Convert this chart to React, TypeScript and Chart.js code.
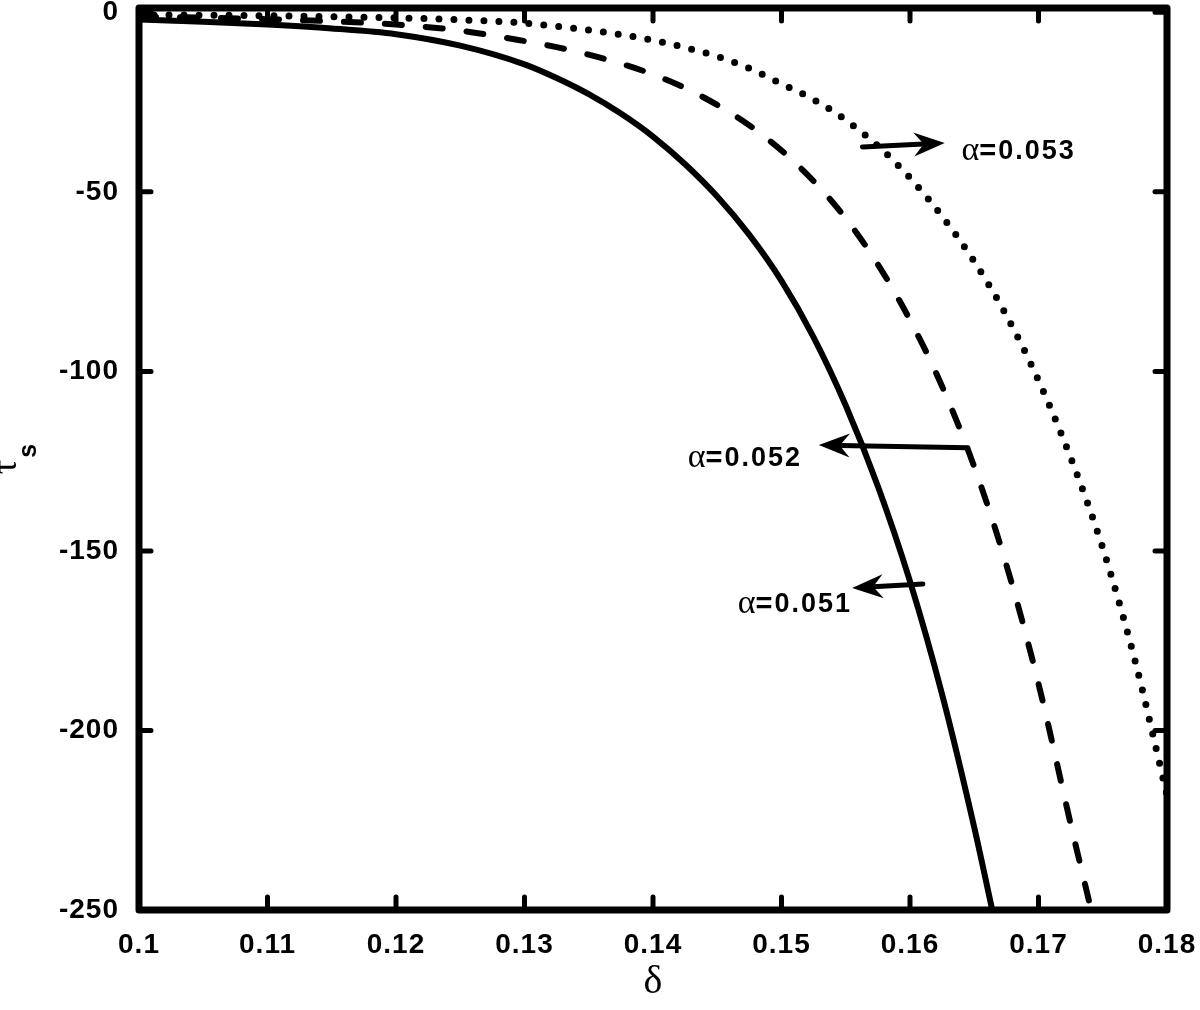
import { useEffect, useRef } from "react"
import { Chart, registerables } from "chart.js"

Chart.register(...registerables)

// axis ticks
const xTicks = [0.1, 0.11, 0.12, 0.13, 0.14, 0.15, 0.16, 0.17, 0.18]
const xTickLabels = ["0.1", "0.11", "0.12", "0.13", "0.14", "0.15", "0.16", "0.17", "0.18"]
const yTicks = [0, -50, -100, -150, -200, -250]
const yTickLabels = ["0", "-50", "-100", "-150", "-200", "-250"]

// alpha = 0.051 (solid)
const delta051 = [0.1, 0.105, 0.11, 0.115, 0.12, 0.125, 0.13, 0.1325, 0.135, 0.1375, 0.14, 0.1425, 0.145, 0.1475, 0.15, 0.1525, 0.155, 0.1575, 0.16, 0.1625, 0.165, 0.1664]
const tau051 = [-2, -2.6, -3.4, -4.5, -6.1, -9.3, -14.5, -18.3, -22.8, -28.2, -34.6, -42.3, -51.3, -62, -74.8, -90.5, -109.5, -132, -158.5, -190, -227, -250]

// alpha = 0.052 (dashed)
const delta052 = [0.1, 0.105, 0.11, 0.115, 0.12, 0.125, 0.13, 0.1325, 0.135, 0.1375, 0.14, 0.1425, 0.145, 0.1475, 0.15, 0.1525, 0.155, 0.1575, 0.16, 0.1625, 0.165, 0.1675, 0.17, 0.1725, 0.1741]
const tau052 = [-1.2, -1.5, -1.9, -2.5, -3.4, -5.1, -8, -9.7, -11.8, -14.3, -17.3, -21.1, -25.8, -31.5, -38.5, -47, -57.4, -70.2, -85.7, -104.2, -126.6, -153.9, -187, -226, -250]

// alpha = 0.053 (dotted)
const delta053 = [0.1, 0.105, 0.11, 0.115, 0.12, 0.125, 0.13, 0.1325, 0.135, 0.1375, 0.14, 0.1425, 0.145, 0.1475, 0.15, 0.1525, 0.155, 0.1575, 0.16, 0.1625, 0.165, 0.1675, 0.17, 0.1725, 0.175, 0.1775, 0.18]
const tau053 = [-0.7, -0.8, -0.95, -1.2, -1.55, -2.1, -3, -3.9, -4.95, -6.2, -7.8, -9.8, -12.3, -15.6, -19.9, -24.3, -30, -37.2, -46.1, -56.8, -69.4, -84.4, -102.5, -124, -149.2, -180.4, -218]

// annotation arrows and labels
const noteValues = ["0.053", "0.052", "0.051"]
const arrowTailDelta = [0.1563, 0.1645, 0.161]
const arrowTailTau = [-37.5, -121.3, -159.2]
const arrowTipDelta = [0.1627, 0.1529, 0.1555]
const arrowTipTau = [-36.4, -120.5, -160.3]
const noteDelta = [0.164, 0.1427, 0.1466]
const noteTau = [-38.8, -124.3, -165]

const sans = "'Liberation Sans', Arial, sans-serif"
const serif = "'Liberation Serif', 'DejaVu Serif', serif"

function toPoints(xs: number[], ys: number[]) {
  return xs.map((x, i) => ({ x, y: ys[i] }))
}

function labelFor(list: number[], labels: string[], v: number) {
  const i = list.findIndex((t) => Math.abs(t - v) < 1e-9)
  return i >= 0 ? labels[i] : ""
}

function drawArrow(ctx: CanvasRenderingContext2D, x1: number, y1: number, x2: number, y2: number) {
  const ang = Math.atan2(y2 - y1, x2 - x1)
  const len = 31
  const half = 12
  const notch = 21
  const cos = Math.cos(ang)
  const sin = Math.sin(ang)
  const nx = x2 - cos * notch
  const ny = y2 - sin * notch
  ctx.beginPath()
  ctx.moveTo(x1, y1)
  ctx.lineTo(nx, ny)
  ctx.lineWidth = 5
  ctx.lineCap = "round"
  ctx.stroke()
  const bx = x2 - cos * len
  const by = y2 - sin * len
  ctx.beginPath()
  ctx.moveTo(x2, y2)
  ctx.lineTo(bx - sin * half, by + cos * half)
  ctx.lineTo(nx, ny)
  ctx.lineTo(bx + sin * half, by - cos * half)
  ctx.closePath()
  ctx.fill()
}

const spacingPlugin = {
  id: "spacing",
  beforeDraw(chart: Chart) {
    ;(chart.ctx as any).letterSpacing = "1px"
  },
}

const framePlugin = {
  id: "frame",
  afterDatasetsDraw(chart: Chart) {
    const { ctx, chartArea: a, scales } = chart
    const xs = scales.x
    const ys = scales.y
    ctx.save()
    ;(ctx as any).letterSpacing = "0px"
    ctx.strokeStyle = "#000"
    ctx.fillStyle = "#000"
    ctx.lineJoin = "round"
    ctx.lineWidth = 7
    ctx.strokeRect(a.left, a.top, a.right - a.left, a.bottom - a.top)

    // inward tick marks on all four sides
    ctx.lineWidth = 5
    ctx.lineCap = "round"
    ctx.beginPath()
    xTicks.forEach((v) => {
      const px = xs.getPixelForValue(v)
      ctx.moveTo(px, a.bottom)
      ctx.lineTo(px, a.bottom - 13)
      ctx.moveTo(px, a.top)
      ctx.lineTo(px, a.top + 13)
    })
    yTicks.forEach((v) => {
      const py = ys.getPixelForValue(v)
      ctx.moveTo(a.left, py)
      ctx.lineTo(a.left + 12, py)
      ctx.moveTo(a.right, py)
      ctx.lineTo(a.right - 12, py)
    })
    ctx.stroke()

    // arrows with alpha labels
    noteValues.forEach((val, i) => {
      drawArrow(
        ctx,
        xs.getPixelForValue(arrowTailDelta[i]),
        ys.getPixelForValue(arrowTailTau[i]),
        xs.getPixelForValue(arrowTipDelta[i]),
        ys.getPixelForValue(arrowTipTau[i])
      )
      let tx = xs.getPixelForValue(noteDelta[i])
      const ty = ys.getPixelForValue(noteTau[i])
      ctx.textBaseline = "middle"
      ctx.textAlign = "left"
      ;(ctx as any).letterSpacing = "0px"
      ctx.font = `34px ${serif}`
      ctx.fillText("α", tx, ty - 1)
      tx += ctx.measureText("α").width
      ctx.font = `bold 29px ${sans}`
      ctx.fillText("=", tx, ty)
      tx += ctx.measureText("=").width + 2
      ;(ctx as any).letterSpacing = "2px"
      ctx.font = `bold 27px ${sans}`
      ctx.fillText(val, tx, ty)
    })
    ;(ctx as any).letterSpacing = "0px"

    // axis titles
    ctx.textAlign = "center"
    ctx.textBaseline = "middle"
    ctx.font = `40px ${serif}`
    ctx.fillText("δ", (a.left + a.right) / 2, a.bottom + 72)

    const cy = (a.top + a.bottom) / 2
    ctx.translate(16, cy)
    ctx.rotate(-Math.PI / 2)
    ctx.textAlign = "left"
    ctx.textBaseline = "alphabetic"
    ctx.font = `36px ${serif}`
    const tw = ctx.measureText("τ").width
    ctx.font = `bold 25px ${sans}`
    const sw = ctx.measureText("s").width
    const start = -(tw + sw + 2) / 2
    ctx.font = `36px ${serif}`
    ctx.fillText("τ", start, 0)
    ctx.font = `bold 25px ${sans}`
    ctx.fillText("s", start + tw + 2, 20)
    ctx.restore()
  },
  afterDraw(chart: Chart) {
    ;(chart.ctx as any).letterSpacing = "0px"
  },
}

function TauChart() {
  const chartRef = useRef<HTMLCanvasElement>(null)
  const chartInstance = useRef<Chart | null>(null)

  useEffect(() => {
    if (!chartRef.current) return
    if (chartInstance.current) {
      chartInstance.current.destroy()
    }
    const ctx = chartRef.current.getContext("2d")
    if (!ctx) return

    const tickFont = { family: sans, size: 28, weight: "bold" as const }
    const lineBase = {
      borderColor: "#000",
      pointRadius: 0,
      cubicInterpolationMode: "monotone" as const,
    }

    chartInstance.current = new Chart(ctx, {
      type: "line",
      data: {
        datasets: [
          {
            ...lineBase,
            label: "α=0.051",
            data: toPoints(delta051, tau051),
            borderWidth: 6,
          },
          {
            ...lineBase,
            label: "α=0.052",
            data: toPoints(delta052, tau052),
            borderWidth: 6,
            borderDash: [17, 24],
            borderCapStyle: "round",
          },
          {
            ...lineBase,
            label: "α=0.053",
            data: toPoints(delta053, tau053),
            borderWidth: 7,
            borderDash: [0, 15],
            borderCapStyle: "round",
          },
        ],
      },
      options: {
        responsive: false,
        animation: false,
        layout: { padding: { top: 8, right: 33, left: 0, bottom: 0 } },
        plugins: {
          legend: { display: false },
          tooltip: { enabled: false },
        },
        scales: {
          x: {
            type: "linear",
            min: 0.1,
            max: 0.18,
            afterBuildTicks: (s: any) => {
              s.ticks = xTicks.map((v) => ({ value: v }))
            },
            afterFit: (s: any) => {
              s.height = 100
              s.paddingLeft = 0
              s.paddingRight = 0
            },
            ticks: {
              callback: (v: any) => labelFor(xTicks, xTickLabels, Number(v)),
              font: tickFont,
              color: "#000",
              padding: 18,
              maxRotation: 0,
              autoSkip: false,
            },
            grid: { display: false, drawTicks: false },
            border: { display: false },
          },
          y: {
            type: "linear",
            min: -250,
            max: 1.2,
            afterBuildTicks: (s: any) => {
              s.ticks = yTicks.map((v) => ({ value: v }))
            },
            afterFit: (s: any) => {
              s.width = 139
              s.paddingTop = 0
              s.paddingBottom = 0
            },
            ticks: {
              callback: (v: any) => labelFor(yTicks, yTickLabels, Number(v)),
              font: tickFont,
              color: "#000",
              padding: 20,
              autoSkip: false,
            },
            grid: { display: false, drawTicks: false },
            border: { display: false },
          },
        },
      },
      plugins: [spacingPlugin, framePlugin],
    })

    return () => {
      if (chartInstance.current) {
        chartInstance.current.destroy()
        chartInstance.current = null
      }
    }
  }, [])

  return <canvas ref={chartRef} width={1200} height={1010} />
}

export default function App() {
  return (
    <div style={{ position: "absolute", left: 0, top: 0, width: 1200, height: 1010, background: "#fff" }}>
      <TauChart />
    </div>
  )
}
